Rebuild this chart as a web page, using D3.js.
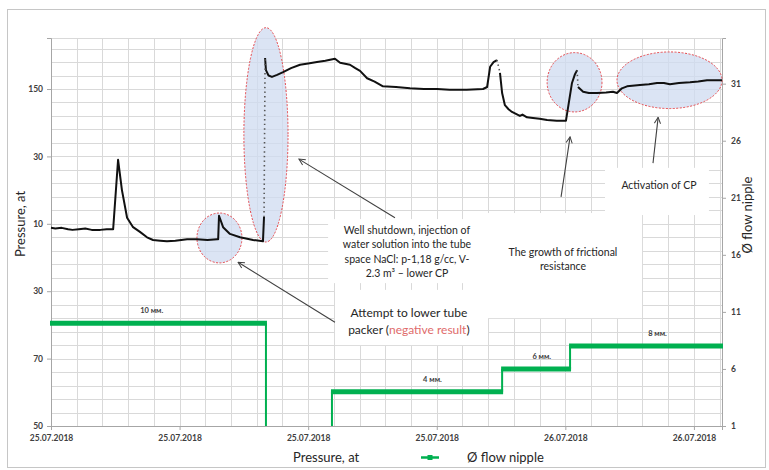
<!DOCTYPE html>
<html>
<head>
<meta charset="utf-8">
<script src="https://cdn.jsdelivr.net/npm/d3@7"></script>
<style>
  body { margin: 0; background: #fff; }
  svg { display: block; font-family: Lato, "Open Sans", sans-serif; }
</style>
</head>
<body>
<svg id="chart" width="769" height="470"></svg>
<script>
// ---- time axis: hours since 25.07.2018 00:00 ----
const startDate = new Date(2018, 6, 25, 0, 0);
const endHours = 31.31;
const dateTickHours = [0, 6, 12, 18, 24, 30];

// ---- left axis (pressure) ----
const pressureTickValues = [0, 1, 2, 3, 4, 5];
const pressureTickLabels = ["50", "70", "30", "10", "30", "150"];
const pressureTop = 5.757;

// ---- right axis (flow nipple diameter) ----
const flowTickValues = [1, 6, 11, 16, 21, 26, 31];
const flowDomain = [1, 35];

// ---- pressure record (null marks a break in the record) ----
const pressureHours = [
  0, 0.2, 0.5, 0.8, 1.0, 1.3, 1.6, 1.9, 2.3, 2.6, 2.85, 2.9, 3.13, 3.31, 3.55, 3.83,
  4.15, 4.48, 4.76, 5.1, 5.41, 5.8, 6.35, 6.81, 7.3, 7.75, 7.8, 7.84, 8.03, 8.35, 8.82,
  9.43, 9.89, 9.94,
  null,
  9.99, 10.03, 10.15, 10.31, 10.55, 10.83, 11.2, 11.62, 12.0, 12.41, 12.8, 13.25, 13.49,
  13.95, 14.2, 14.42, 14.75, 15.1, 15.49, 16.1, 16.75, 17.4, 18.01, 18.6, 19.4, 20.16,
  20.35, 20.49, 20.65, 20.81,
  null,
  20.95, 21.05, 21.18, 21.35, 21.51, 21.88, 22.0, 22.21, 22.49, 22.8, 23.15, 23.6, 24.03,
  24.13, 24.31, 24.45, 24.55,
  null,
  24.59, 24.83, 25.1, 25.48, 25.9, 26.22, 26.41, 26.64, 26.88, 27.48, 27.9, 28.28, 28.6,
  28.88, 29.3, 29.82, 30.2, 30.61, 31.31
];
const pressureValues = [
  2.94, 2.93, 2.94, 2.92, 2.91, 2.92, 2.93, 2.91, 2.91, 2.92, 2.92, 2.92, 3.95, 3.50, 3.09, 2.95,
  2.88, 2.80, 2.76, 2.75, 2.74, 2.75, 2.77, 2.77, 2.76, 2.77, 2.77, 3.12, 2.95, 2.85, 2.80,
  2.76, 2.74, 3.10,
  null,
  5.46, 5.28, 5.20, 5.18, 5.21, 5.25, 5.31, 5.36, 5.38, 5.40, 5.42, 5.45, 5.39,
  5.36, 5.31, 5.27, 5.16, 5.11, 5.04, 5.03, 5.01, 5.00, 5.00, 4.99, 4.99, 5.00,
  5.03, 5.33, 5.40, 5.43,
  null,
  5.24, 4.94, 4.76, 4.70, 4.66, 4.60, 4.62, 4.58, 4.57, 4.56, 4.54, 4.53, 4.53,
  4.73, 5.09, 5.22, 5.28,
  null,
  5.03, 4.96, 4.94, 4.94, 4.95, 4.96, 4.94, 5.01, 5.04, 5.06, 5.07, 5.09, 5.09,
  5.07, 5.09, 5.10, 5.11, 5.13, 5.13
];

// ---- flow nipple steps ----
const flowStart = [0, 13.11, 21.05, 24.22];
const flowEnd = [10.03, 21.05, 24.22, 31.31];
const flowDiameter = [10, 4, 6, 8];
const flowLabels = ["10 мм.", "4 мм.", "6 мм.", "8 мм."];
const flowLabelHours = [4.7, 17.8, 22.9, 28.3];

// ---- annotations (hours / pressure-axis units) ----
const highlightEllipses = [
  { h: 7.86, p: 2.79, rh: 1.05, rp: 0.37 },
  { h: 10.03, p: 4.32, rh: 1.03, rp: 1.59 },
  { h: 24.43, p: 5.10, rh: 1.28, rp: 0.44 },
  { h: 28.86, p: 5.13, rh: 2.45, rp: 0.42 }
];
const noteBoxes = [
  { h0: 12.93, h1: 20.39, p0: 3.07, p1: 2.12 },
  { h0: 13.25, h1: 20.39, p0: 2.02, p1: 1.20 },
  { h0: 20.39, h1: 27.58, p0: 3.16, p1: 1.60 },
  { h0: 25.85, h1: 30.70, p0: 3.83, p1: 3.13 }
];
const noteArrows = [
  { h0: 16.05, p0: 3.09, h1: 11.57, p1: 3.96 },
  { h0: 13.25, p0: 1.54, h1: 8.73, p1: 2.43 },
  { h0: 23.80, p0: 3.40, h1: 24.22, p1: 4.29 },
  { h0: 28.09, p0: 3.90, h1: 28.33, p1: 4.58 }
];

const svg = d3.select("#chart");
const W = 769, H = 470;
const plot = { left: 51, right: 722, top: 38, bottom: 426 };

const toDate = h => new Date(startDate.getTime() + h * 3600e3);

const x = d3.scaleTime()
  .domain([startDate, toDate(endHours)])
  .range([plot.left, plot.right]);
const yP = d3.scaleLinear().domain([0, pressureTop]).range([plot.bottom, plot.top]);
const yF = d3.scaleLinear().domain(flowDomain).range([plot.bottom, plot.top]).clamp(true);
const xh = h => x(toDate(h));

// outer frame
svg.append("rect")
  .attr("x", 7.5).attr("y", 9.5).attr("width", 758).attr("height", 458)
  .attr("fill", "#fff").attr("stroke", "#c6c6c6").attr("stroke-width", 1);

// grid
const grid = svg.append("g").attr("stroke", "#d9d9d9").attr("stroke-width", 1);
d3.range(0, endHours, 1.2).forEach(h => {
  grid.append("line")
    .attr("x1", Math.round(xh(h)) + 0.5).attr("x2", Math.round(xh(h)) + 0.5)
    .attr("y1", plot.top).attr("y2", plot.bottom);
});
d3.range(0, pressureTop, 0.2).forEach(p => {
  grid.append("line")
    .attr("x1", plot.left).attr("x2", plot.right)
    .attr("y1", Math.round(yP(p)) + 0.5).attr("y2", Math.round(yP(p)) + 0.5);
});
grid.append("line")
  .attr("x1", plot.left).attr("x2", plot.right)
  .attr("y1", plot.top + 0.5).attr("y2", plot.top + 0.5);

// white note boxes over the grid
svg.append("g").selectAll("rect").data(noteBoxes).join("rect")
  .attr("x", d => xh(d.h0)).attr("y", d => yP(d.p0))
  .attr("width", d => xh(d.h1) - xh(d.h0))
  .attr("height", d => yP(d.p1) - yP(d.p0))
  .attr("fill", "#fff");

// axes
const fmt = d3.timeFormat("%d.%m.%Y");
const xAxis = d3.axisBottom(x)
  .tickValues(dateTickHours.map(toDate))
  .tickFormat(fmt).tickSize(4).tickPadding(5);
const gx = svg.append("g").attr("transform", `translate(0,${plot.bottom})`).call(xAxis);

const yAxisL = d3.axisLeft(yP)
  .tickValues(pressureTickValues)
  .tickFormat((d, i) => pressureTickLabels[i]).tickSize(4).tickPadding(4);
const gl = svg.append("g").attr("transform", `translate(${plot.left},0)`).call(yAxisL);

const yAxisR = d3.axisRight(yF)
  .tickValues(flowTickValues).tickSize(4).tickPadding(5);
const gr = svg.append("g").attr("transform", `translate(${plot.right},0)`).call(yAxisR);

[gx, gl, gr].forEach(g => {
  g.select(".domain").attr("stroke", "#a6a6a6");
  g.selectAll(".tick line").attr("stroke", "#a6a6a6");
  g.selectAll(".tick text")
    .attr("fill", "#404040")
    .style("font-family", "Lato, sans-serif")
    .style("font-weight", "700")
    .style("font-size", "8.5px");
});

// highlight ellipses
svg.append("g").selectAll("ellipse").data(highlightEllipses).join("ellipse")
  .attr("cx", d => xh(d.h)).attr("cy", d => yP(d.p))
  .attr("rx", d => xh(d.h + d.rh) - xh(d.h))
  .attr("ry", d => yP(d.p - d.rp) - yP(d.p))
  .attr("fill", "#cfdbf0").attr("fill-opacity", 0.75)
  .attr("stroke", "#e5484d").attr("stroke-width", 1)
  .attr("stroke-dasharray", "2,1.5");

// flow nipple steps: thick horizontals, thin verticals
const flowG = svg.append("g");
flowStart.forEach((s, i) => {
  flowG.append("line")
    .attr("x1", xh(s) - 1).attr("x2", xh(flowEnd[i]) + 1)
    .attr("y1", yF(flowDiameter[i])).attr("y2", yF(flowDiameter[i]))
    .attr("stroke", "#00b050").attr("stroke-width", 5);
  const prevEnd = i > 0 ? flowEnd[i - 1] : null;
  const from = (prevEnd !== null && Math.abs(prevEnd - s) < 1e-6) ? flowDiameter[i - 1] : 0;
  if (s > 0) {
    flowG.append("line")
      .attr("x1", xh(s)).attr("x2", xh(s))
      .attr("y1", yF(from)).attr("y2", yF(flowDiameter[i]))
      .attr("stroke", "#00b050").attr("stroke-width", 2);
  }
  const next = flowStart[i + 1];
  if (next === undefined || Math.abs(next - flowEnd[i]) > 1e-6) {
    if (flowEnd[i] < endHours - 0.01) {
      flowG.append("line")
        .attr("x1", xh(flowEnd[i])).attr("x2", xh(flowEnd[i]))
        .attr("y1", yF(flowDiameter[i])).attr("y2", yF(0))
        .attr("stroke", "#00b050").attr("stroke-width", 2);
    }
  }
  flowG.append("text")
    .attr("x", xh(flowLabelHours[i])).attr("y", yF(flowDiameter[i]) - 10)
    .attr("text-anchor", "middle")
    .attr("font-size", "7.5px").attr("font-weight", 700).attr("fill", "#404040")
    .text(flowLabels[i]);
});

// pressure line
const pts = pressureHours.map((h, i) => ({ h, p: pressureValues[i] }));
const line = d3.line()
  .defined(d => d.h !== null && d.p !== null)
  .x(d => xh(d.h)).y(d => yP(d.p));
svg.append("path").datum(pts)
  .attr("d", line)
  .attr("fill", "none").attr("stroke", "#111").attr("stroke-width", 2)
  .attr("stroke-linejoin", "round");

// dotted jumps across record breaks
pts.forEach((d, i) => {
  if (d.h === null) {
    const a = pts[i - 1], b = pts[i + 1];
    svg.append("line")
      .attr("x1", xh(a.h)).attr("y1", yP(a.p))
      .attr("x2", xh(b.h)).attr("y2", yP(b.p))
      .attr("stroke", "#555").attr("stroke-width", 1.6)
      .attr("stroke-dasharray", "1.4,3.2");
  }
});

// arrows
svg.append("defs").append("marker")
  .attr("id", "arrowhead").attr("viewBox", "0 0 10 10")
  .attr("refX", 9).attr("refY", 5)
  .attr("markerWidth", 7).attr("markerHeight", 7)
  .attr("orient", "auto-start-reverse")
  .append("path").attr("d", "M1,1 L9,5 L1,9")
  .attr("fill", "none").attr("stroke", "#404040").attr("stroke-width", 1.3);

svg.append("g").selectAll("line").data(noteArrows).join("line")
  .attr("x1", d => xh(d.h0)).attr("y1", d => yP(d.p0))
  .attr("x2", d => xh(d.h1)).attr("y2", d => yP(d.p1))
  .attr("stroke", "#404040").attr("stroke-width", 1.1)
  .attr("marker-end", "url(#arrowhead)");

// note texts
function note(hCenter, yTop, lines, size, lh) {
  const t = svg.append("text")
    .attr("text-anchor", "middle")
    .attr("font-size", size + "px").attr("fill", "#262626");
  lines.forEach((ln, i) => {
    const ts = t.append("tspan").attr("x", xh(hCenter)).attr("y", yTop + i * lh);
    if (Array.isArray(ln)) {
      ln.forEach(part => ts.append("tspan").attr("fill", part.c || "#262626").text(part.t));
    } else ts.text(ln);
  });
}
note(16.61, 234, ["Well shutdown, injection of", "water solution into the tube",
  "space NaCl: p-1,18 g/cc, V-", "2.3 m³ – lower CP"], 10.5, 14.3);
note(16.7, 316.5, ["Attempt to lower tube",
  [{ t: "packer (" }, { t: "negative result", c: "#e06b6b" }, { t: ")" }]], 12, 17);
note(23.89, 256, ["The growth of frictional", "resistance"], 10.5, 14);
note(28.37, 189, ["Activation of CP"], 10.5, 14);

// axis titles
svg.append("text")
  .attr("transform", `translate(25,224) rotate(-90)`)
  .attr("text-anchor", "middle").attr("font-size", "13px").attr("fill", "#262626")
  .text("Pressure, at");
svg.append("text")
  .attr("transform", `translate(752,215) rotate(-90)`)
  .attr("text-anchor", "middle").attr("font-size", "13px").attr("fill", "#262626")
  .text("Ø flow nipple");

// legend
const lg = svg.append("g").attr("font-size", "13px").attr("fill", "#262626");
lg.append("text").attr("x", 293).attr("y", 462).text("Pressure, at");
lg.append("line").attr("x1", 421).attr("x2", 439).attr("y1", 457.5).attr("y2", 457.5)
  .attr("stroke", "#00b050").attr("stroke-width", 2.5);
lg.append("rect").attr("x", 427.5).attr("y", 455).attr("width", 5).attr("height", 5)
  .attr("fill", "#00b050");
lg.append("text").attr("x", 467).attr("y", 462).text("Ø flow nipple");
</script>
</body>
</html>
